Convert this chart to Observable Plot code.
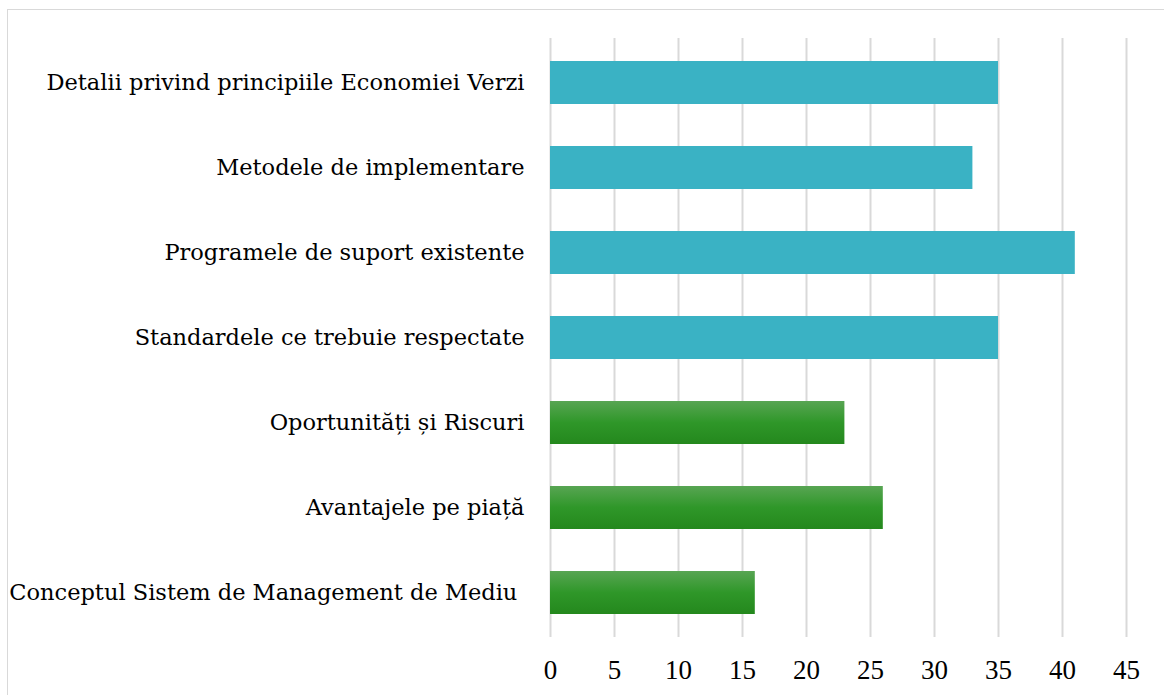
<!DOCTYPE html>
<html>
<head>
<meta charset="utf-8">
<script src="https://cdn.jsdelivr.net/npm/d3@7"></script>
<script src="https://cdn.jsdelivr.net/npm/@observablehq/plot@0.6"></script>
<style>
  html, body { margin: 0; padding: 0; background: #fff; }
  #wrap { position: relative; width: 1164px; height: 695px; overflow: hidden; }
  #border { position: absolute; left: 7px; top: 9px; width: 1160px; height: 700px; border: 1px solid #d9d9d9; box-sizing: border-box; }
  #chart { position: absolute; left: 0; top: 0; }
  .ylab text { font-family: 'DejaVu Serif', serif; }
</style>
</head>
<body>
<div id="wrap"><div id="border"></div><div id="chart"></div></div>
<script>
const categories = [
  "Detalii privind principiile Economiei Verzi",
  "Metodele de implementare",
  "Programele de suport existente",
  "Standardele ce trebuie respectate",
  "Oportunități și Riscuri",
  "Avantajele pe piață",
  "Conceptul Sistem de Management de Mediu "
];
const values = [35, 33, 41, 35, 23, 26, 16];
const groups = ["teal", "teal", "teal", "teal", "green", "green", "green"];
const xTicks = [0, 5, 10, 15, 20, 25, 30, 35, 40, 45];

const data = categories.map((c, i) => ({category: c, value: values[i], group: groups[i]}));

const chart = Plot.plot({
  width: 1164,
  height: 695,
  marginLeft: 550,
  marginRight: 38,
  marginTop: 38,
  marginBottom: 58,
  style: {fontFamily: "'Liberation Serif', serif", fontSize: "23px", color: "#000", background: "transparent"},
  x: {domain: [0, 45], ticks: xTicks, label: null},
  y: {domain: categories, paddingInner: 0.5, paddingOuter: 0.25, label: null},
  marks: [
    Plot.gridX(xTicks, {stroke: "#d9d9d9", strokeOpacity: 1, strokeWidth: 2}),
    Plot.barX(data.filter(d => d.group === "teal"), {x: "value", y: "category", fill: "#3ab2c4"}),
    Plot.barX(data.filter(d => d.group === "green"), {x: "value", y: "category", fill: "#2e9628", className: "greenbars"}),
    Plot.axisX({ticks: xTicks, tickSize: 0, tickPadding: 22, fontSize: 27, label: null}),
    Plot.axisY({tickSize: 0, tickPadding: 26, fontSize: 22.5, label: null, className: "ylab"})
  ]
});

const ns = "http://www.w3.org/2000/svg";
const defs = document.createElementNS(ns, "defs");
defs.innerHTML = `<linearGradient id="greenGrad" x1="0" y1="0" x2="0" y2="1">
  <stop offset="0" stop-color="#58a553"/>
  <stop offset="0.5" stop-color="#2f9729"/>
  <stop offset="1" stop-color="#24881d"/>
</linearGradient>`;
chart.insertBefore(defs, chart.firstChild);
chart.querySelectorAll("g.greenbars").forEach(g => {
  g.setAttribute("fill", "url(#greenGrad)");
  g.querySelectorAll("rect").forEach(r => r.setAttribute("fill", "url(#greenGrad)"));
});
document.getElementById("chart").appendChild(chart);
</script>
</body>
</html>
